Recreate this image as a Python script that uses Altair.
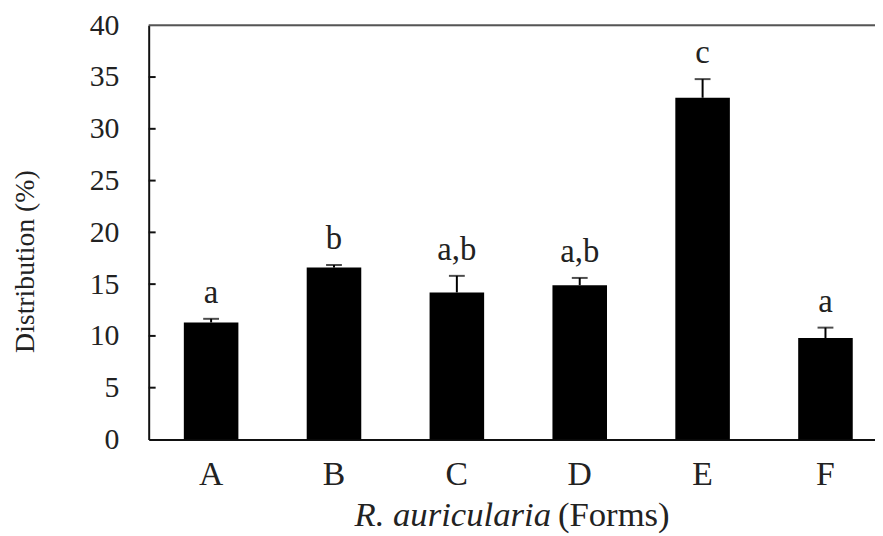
import altair as alt
import pandas as pd

forms = ["A", "B", "C", "D", "E", "F"]
means = [11.3, 16.6, 14.2, 14.9, 33.0, 9.8]
errors = [0.35, 0.25, 1.6, 0.7, 1.8, 1.0]
letters = ["a", "b", "a,b", "a,b", "c", "a"]
y_ticks = [5, 10, 15, 20, 25, 30, 35]

df = pd.DataFrame({"form": forms, "mean": means, "err": errors, "letter": letters})
df["top"] = df["mean"] + df["err"]
tick_df = pd.DataFrame({"t": y_ticks})

FONT = "Liberation Serif"
SHIFT = 6.5

xscale = alt.Scale(domain=forms, paddingInner=0.556, paddingOuter=0.2335)
yscale = alt.Scale(domain=[0, 40], nice=False)

x = alt.X("form:N", scale=xscale, sort=forms,
          axis=alt.Axis(title=None, labelAngle=0, ticks=False, domain=True,
                        domainColor="#111", domainWidth=2, labelFont=FONT,
                        labelFontSize=34, labelColor="#222", labelPadding=18,
                        labelOffset=SHIFT))
y = alt.Y("mean:Q", scale=yscale,
          axis=alt.Axis(title="Distribution (%)", values=list(range(0, 41, 5)), ticks=False,
                        grid=False, domainColor="#111", domainWidth=2, labelFont=FONT,
                        labelFontSize=30, labelColor="#222", labelPadding=30,
                        titleFont=FONT, titleFontSize=28, titleFontWeight="normal",
                        titleColor="#222", titleX=-124, titleY=238, titleAngle=270,
                        titleAlign="center", titleBaseline="middle"))

base = alt.Chart(df)
xb = alt.X("form:N", scale=xscale, sort=forms)

bars = base.mark_bar(color="black", xOffset=SHIFT).encode(x=x, y=y)

err_line = base.mark_rule(color="black", strokeWidth=2, xOffset=SHIFT).encode(
    x=xb, y=alt.Y("mean:Q", scale=yscale), y2="top:Q")
err_cap = base.mark_tick(color="black", thickness=2, size=16, orient="horizontal", xOffset=SHIFT).encode(
    x=xb, y=alt.Y("top:Q", scale=yscale))

labels = base.mark_text(font=FONT, fontSize=33, color="#222", baseline="alphabetic", dy=-16,
                        dx=SHIFT).encode(
    x=xb, y=alt.Y("top:Q", scale=yscale), text="letter:N")

inner_ticks = alt.Chart(tick_df).mark_rule(color="#111", strokeWidth=2).encode(
    x=alt.value(0), x2=alt.value(7), y=alt.Y("t:Q", scale=yscale))

top_line = alt.Chart(pd.DataFrame({"v": [40]})).mark_rule(color="#555", strokeWidth=2).encode(
    y=alt.Y("v:Q", scale=yscale))

title_it = alt.Chart(pd.DataFrame({"s": ["R. auricularia"]})).mark_text(
    font=FONT, fontSize=35, fontStyle="italic", color="#222", align="right", baseline="alphabetic"
).encode(text="s:N", x=alt.value(406), y=alt.value(505))
title_rg = alt.Chart(pd.DataFrame({"s": ["(Forms)"]})).mark_text(
    font=FONT, fontSize=35, color="#222", align="left", baseline="alphabetic"
).encode(text="s:N", x=alt.value(413), y=alt.value(505))

chart = alt.layer(bars, err_line, err_cap, labels, inner_ticks, top_line, title_it, title_rg).properties(
    width=733, height=418,
    autosize=alt.AutoSizeParams(type="none"),
    padding={"left": 142, "top": 15, "right": 0, "bottom": 95},
).configure_view(stroke=None).configure(background="white")

chart.save("out.html", embed_options={"renderer": "svg", "actions": False})
